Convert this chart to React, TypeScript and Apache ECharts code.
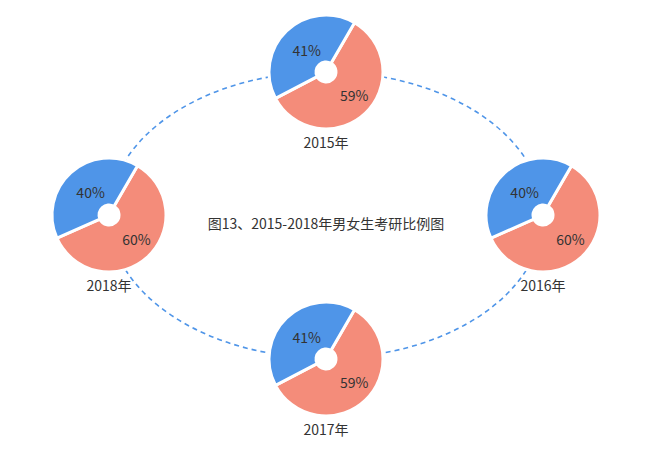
import { useEffect, useRef } from "react";
import * as echarts from "echarts";

const BLUE = "#4f95e8";
const RED = "#f48c7a";
const FONT = '"Noto Sans CJK SC", "Microsoft YaHei", sans-serif';

const years = ["2015年", "2016年", "2017年", "2018年"];
// 女生比例（红）/ 男生比例（蓝），单位 %
const femaleShare = [59, 60, 59, 60];
const maleShare = [41, 40, 41, 40];
const chartTitle = "图13、2015-2018年男女生考研比例图";

// 四个饼图沿椭圆排布：上、右、下、左
const centers: [number, number][] = [
    [326, 72],
    [543, 215],
    [326, 359],
    [109, 215],
];

export default function App() {
    const ref = useRef<HTMLDivElement>(null);

    useEffect(() => {
        if (!ref.current) return;
        const chart = echarts.init(ref.current, undefined, { renderer: "svg" });

        const textStyle = { fontSize: 14, fontWeight: "normal" as const, color: "#333", fontFamily: FONT };

        chart.setOption({
            backgroundColor: "#fff",
            animation: false,
            textStyle: { fontFamily: FONT },
            title: [
                { text: chartTitle, left: 326, top: 216, textAlign: "center", padding: 0, textStyle },
                ...years.map((y, i) => ({
                    text: y,
                    left: centers[i][0],
                    top: centers[i][1] + 63,
                    textAlign: "center",
                    padding: 0,
                    textStyle,
                })),
            ],
            graphic: [
                {
                    type: "ellipse",
                    z: 0,
                    silent: true,
                    shape: { cx: 326, cy: 215, rx: 217, ry: 143 },
                    style: { fill: "none", stroke: BLUE, lineWidth: 1.6, lineDash: [5, 4] },
                },
            ],
            series: [
                ...years.map((y, i) => ({
                    type: "pie",
                    name: y,
                    z: 5,
                    center: centers[i],
                    radius: [10, 57],
                    startAngle: 60,
                    clockwise: true,
                    avoidLabelOverlap: false,
                    itemStyle: { borderColor: "#fff", borderWidth: 3 },
                    label: {
                        position: "inner",
                        formatter: "{d}%",
                        color: "#333",
                        fontSize: 14,
                        fontFamily: FONT,
                    },
                    labelLine: { show: false },
                    emphasis: { disabled: true },
                    data: [
                        {
                            name: "女生",
                            value: femaleShare[i],
                            itemStyle: { color: RED },
                            label: { offset: [3, -3] },
                        },
                        {
                            name: "男生",
                            value: maleShare[i],
                            itemStyle: { color: BLUE },
                            label: { offset: [6, 4] },
                        },
                    ],
                })),
                // 白色圆心，遮住穿过饼图中心的虚线
                ...years.map((y, i) => ({
                    type: "pie",
                    name: y + "-hole",
                    z: 4,
                    silent: true,
                    center: centers[i],
                    radius: [0, 11],
                    label: { show: false },
                    labelLine: { show: false },
                    itemStyle: { color: "#fff" },
                    data: [{ name: y, value: 1 }],
                })),
            ],
        });

        return () => chart.dispose();
    }, []);

    return (
        <div
            ref={ref}
            style={{ position: "absolute", left: 0, top: 0, width: 650, height: 451 }}
        />
    );
}
